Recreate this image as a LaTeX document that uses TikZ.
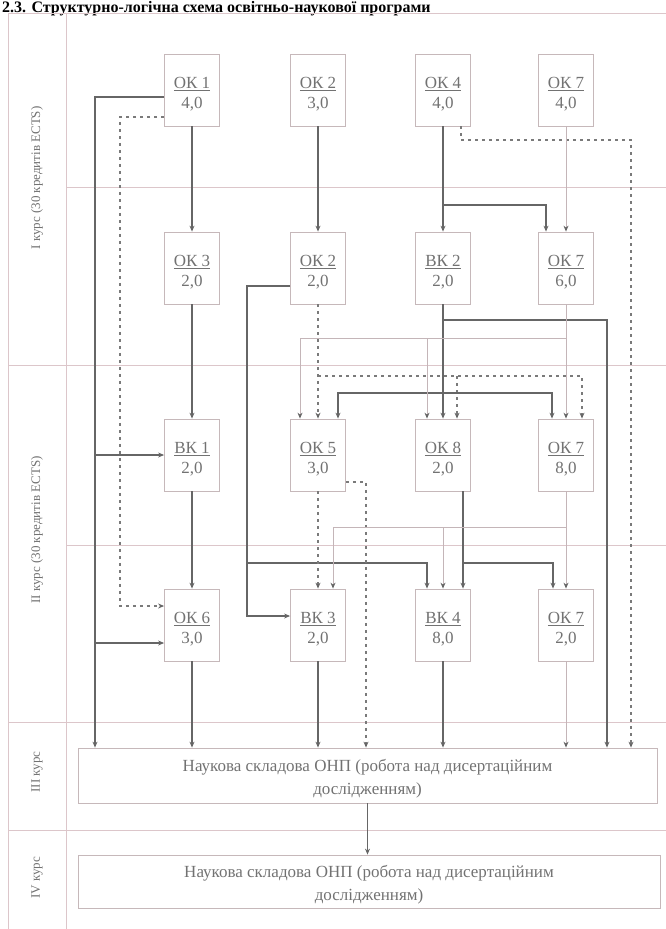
\documentclass[tikz,border=0pt]{standalone}
\usepackage{fontspec}
\setmainfont{Liberation Serif}
\usetikzlibrary{arrows.meta,calc}
\definecolor{gridc}{HTML}{DCC6CA}
\definecolor{boxc}{HTML}{C6B8BA}
\definecolor{txtc}{HTML}{727272}
\definecolor{solc}{HTML}{666666}
\definecolor{dshc}{HTML}{7A7A7A}
\definecolor{ltdc}{HTML}{C4B5B8}
\begin{document}
\begin{tikzpicture}[x=1pt,y=-1pt,
  box/.style={draw=boxc,line width=0.8pt,minimum width=55pt,minimum height=72pt,inner sep=0pt},
  btxt/.style={yshift=-4pt,inner sep=0pt,align=center,text=txtc,font=\fontsize{17}{20}\selectfont},
  wide/.style={draw=boxc,line width=0.8pt,minimum width=579pt,minimum height=55pt,inner sep=0pt},
  wtxt/.style={yshift=-3pt,inner sep=0pt,align=center,text=txtc,font=\fontsize{17}{23}\selectfont},
  lab/.style={rotate=90,text=txtc,font=\fontsize{13}{15}\selectfont},
  gridl/.style={draw=gridc,line width=0.8pt},
  tip/.style={-{Stealth[length=6pt,width=5pt,color=solc]}},
  sol/.style={draw=solc,line width=1.1pt,tip},
  dsh/.style={draw=dshc,line width=1.2pt,dash pattern=on 3pt off 4pt,tip},
  ltd/.style={draw=ltdc,line width=0.9pt,tip},
]
\useasboundingbox (0,0) rectangle (666,929);
% title (top of the page)
\node[anchor=base west,inner sep=0pt,font=\bfseries\fontsize{16}{18}\selectfont,text=black] (title) at (2,12) {2.3. Структурно-логічна схема освітньо-наукової програми};
% grid
\draw[gridl] (8,13) -- (666,13);
\draw[gridl] (8,13) -- (8,929);
\draw[gridl] (66,13) -- (66,929);
\draw[gridl] (8,365) -- (666,365);
\draw[gridl] (8,722) -- (666,722);
\draw[gridl] (8,830) -- (666,830);
\draw[gridl] (66,187) -- (666,187);
\draw[gridl] (66,545) -- (666,545);
% side labels
\node[lab] (l1) at (37,178) {I курс (30 кредитів ECTS)};
\node[lab] (l2) at (37,530) {II курс (30 кредитів ECTS)};
\node[lab] (l3) at (37,772) {III курс};
\node[lab] (l4) at (37,878) {IV курс};
% boxes
\node[box,label={[btxt]center:{\underline{ОК 1}\\4,0}}] (ok1) at (192,90) {};
\node[box,label={[btxt]center:{\underline{ОК 2}\\3,0}}] (ok2a) at (318,90) {};
\node[box,label={[btxt]center:{\underline{ОК 4}\\4,0}}] (ok4) at (443,90) {};
\node[box,label={[btxt]center:{\underline{ОК 7}\\4,0}}] (ok7a) at (566,90) {};
\node[box,label={[btxt]center:{\underline{ОК 3}\\2,0}}] (ok3) at (192,268) {};
\node[box,label={[btxt]center:{\underline{ОК 2}\\2,0}}] (ok2b) at (318,268) {};
\node[box,label={[btxt]center:{\underline{ВК 2}\\2,0}}] (bk2) at (443,268) {};
\node[box,label={[btxt]center:{\underline{ОК 7}\\6,0}}] (ok7b) at (566,268) {};
\node[box,label={[btxt]center:{\underline{ВК 1}\\2,0}}] (bk1) at (192,455) {};
\node[box,label={[btxt]center:{\underline{ОК 5}\\3,0}}] (ok5) at (318,455) {};
\node[box,label={[btxt]center:{\underline{ОК 8}\\2,0}}] (ok8) at (443,455) {};
\node[box,label={[btxt]center:{\underline{ОК 7}\\8,0}}] (ok7c) at (566,455) {};
\node[box,label={[btxt]center:{\underline{ОК 6}\\3,0}}] (ok6) at (192,625) {};
\node[box,label={[btxt]center:{\underline{ВК 3}\\2,0}}] (bk3) at (318,625) {};
\node[box,label={[btxt]center:{\underline{ВК 4}\\8,0}}] (bk4) at (443,625) {};
\node[box,label={[btxt]center:{\underline{ОК 7}\\2,0}}] (ok7d) at (566,625) {};
\node[wide,label={[wtxt]center:{Наукова складова ОНП (робота над дисертаційним\\дослідженням)}}] (nb3) at (367.5,775.5) {};
\node[wide,minimum width=582pt,minimum height=53pt,label={[wtxt]center:{Наукова складова ОНП (робота над дисертаційним\\дослідженням)}}] (nb4) at (369,881.5) {};
% helper coordinates
\coordinate (L1) at (95,0); \coordinate (L2) at (120,0); \coordinate (L3) at (247,0);
\coordinate (R3) at (366,0); \coordinate (R1) at (607,0); \coordinate (R2) at (631,0);
\coordinate (H4) at (0,140); \coordinate (H3) at (0,205); \coordinate (H5) at (0,320);
\coordinate (H7) at (0,338); \coordinate (H2) at (0,376); \coordinate (H6) at (0,393);
\coordinate (H8) at (0,527); \coordinate (H1) at (0,563);
\coordinate (ok7bL) at ($(ok7b.north)+(-20,0)$);
\coordinate (ok5L) at ($(ok5.north)+(-18,0)$);
\coordinate (ok5R) at ($(ok5.north)+(20,0)$);
\coordinate (ok8L) at ($(ok8.north)+(-16,0)$);
\coordinate (ok8R) at ($(ok8.north)+(14,0)$);
\coordinate (ok7cL) at ($(ok7c.north)+(-14,0)$);
\coordinate (ok7cR) at ($(ok7c.north)+(16,0)$);
\coordinate (bk3R) at ($(bk3.north)+(15,0)$);
\coordinate (bk4L) at ($(bk4.north)+(-16,0)$);
\coordinate (bk4R) at ($(bk4.north)+(20,0)$);
\coordinate (ok7dL) at ($(ok7d.north)+(-13,0)$);
\coordinate (s1) at ($(ok1.west)+(0,7)$);
\coordinate (s2) at ($(ok1.west)+(0,27)$);
\coordinate (s3) at ($(ok2b.west)+(0,18)$);
\coordinate (s4) at ($(ok4.south)+(18,0)$);
\coordinate (s5) at ($(ok5.east)+(0,27)$);
\coordinate (s6) at ($(ok8.south)+(20,0)$);
\coordinate (e1) at ($(ok6.west)+(0,18)$);
\coordinate (e2) at ($(ok6.west)+(0,-19)$);
\coordinate (e3) at ($(bk3.west)+(0,-9)$);
% connectors
\draw[sol] (s1) -| (L1 |- nb3.north);
\draw[sol] (L1 |- bk1.west) -- (bk1.west);
\draw[sol] (L1 |- e1) -- (e1);
\draw[dsh] (s2) -| (L2 |- e2) -- (e2);
\draw[sol] (ok1.south) -- (ok3.north);
\draw[sol] (ok3.south) -- (bk1.north);
\draw[sol] (bk1.south) -- (ok6.north);
\draw[sol] (ok6.south) -- (ok6.south |- nb3.north);
\draw[sol] (ok2a.south) -- (ok2b.north);
\draw[sol] (s3) -| (L3 |- e3) -- (e3);
\draw[sol] (L3 |- H1) -| (bk4L);
\draw[dsh] (ok2b.south) -- (ok5.north);
\draw[dsh] (ok2b.south |- H2) -| (ok7cR);
\draw[dsh] (ok8R |- H2) -- (ok8R);
\draw[sol] (ok4.south) -- (bk2.north);
\draw[sol] (ok4.south |- H3) -| (ok7bL);
\draw[dsh] (s4) |- (R2 |- H4) -- (R2 |- nb3.north);
\draw[ltd] (ok7a.south) -- (ok7b.north);
\draw[sol] (bk2.south) -- (ok8.north);
\draw[sol] (bk2.south |- H5) -| (R1 |- nb3.north);
\draw[sol] (bk2.south |- H6) -| (ok5R);
\draw[sol] (bk2.south |- H6) -| (ok7cL);
\draw[ltd] (ok7b.south) -- (ok7c.north);
\draw[ltd] (ok7b.south |- H7) -| (ok5L);
\draw[ltd] (ok8L |- H7) -- (ok8L);
\draw[dsh] (ok5.south) -- (bk3.north);
\draw[dsh] (s5) -| (R3 |- nb3.north);
\draw[sol] (s6) -- (bk4R);
\draw[sol] (s6 |- H1) -| (ok7dL);
\draw[ltd] (ok7c.south) -- (ok7d.north);
\draw[ltd] (ok7c.south |- H8) -| (bk3R);
\draw[ltd] (bk4.north |- H8) -- (bk4.north);
\draw[sol] (bk3.south) -- (bk3.south |- nb3.north);
\draw[sol] (bk4.south) -- (bk4.south |- nb3.north);
\draw[ltd] (ok7d.south) -- (ok7d.south |- nb3.north);
\draw[sol] (nb3.south) -- (nb3.south |- nb4.north);
\end{tikzpicture}
\end{document}
